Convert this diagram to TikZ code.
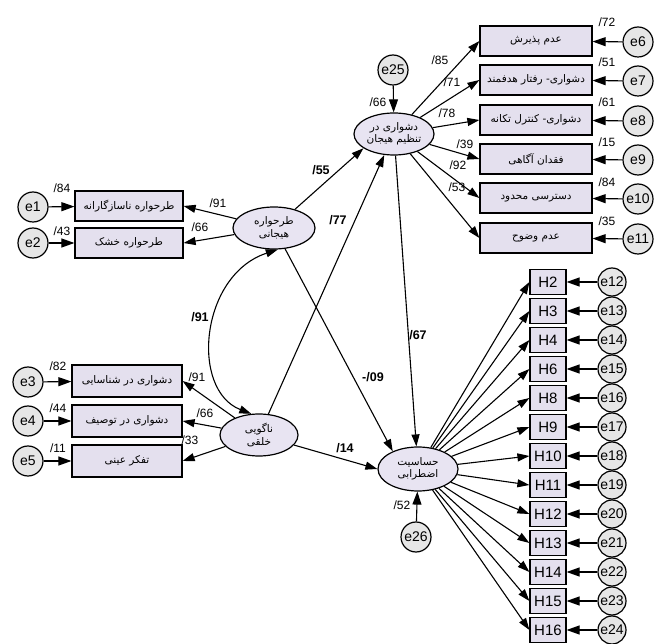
\documentclass[tikz,border=0pt]{standalone}
\usepackage{fontspec}
\setmainfont{Liberation Sans}
\newfontfamily\fa[Script=Arabic]{DejaVu Sans}
\TeXXeTstate=1
\usetikzlibrary{shapes.geometric,arrows.meta}
\definecolor{boxfill}{HTML}{E4E0EE}
\definecolor{latfill}{HTML}{E8E4F2}
\definecolor{errfill}{HTML}{E6E6E6}
\newcommand\pr[1]{{\fa\beginR #1\endR}}
\begin{document}
\begin{tikzpicture}[x=1pt,y=-1pt,
  ind/.style={draw,line width=1.2pt,fill=boxfill,minimum width=112pt,minimum height=30pt,inner sep=1pt,font=\fontsize{10.5}{11}\selectfont},
  hbox/.style={draw,line width=1.2pt,fill=boxfill,minimum width=36pt,minimum height=25pt,inner sep=1pt,font=\fontsize{15}{15}\selectfont},
  lat/.style={ellipse,draw,line width=1.2pt,fill=latfill,minimum width=80pt,minimum height=42pt,inner sep=0pt,align=center,font=\fontsize{10.5}{12.5}\selectfont},
  err/.style={circle,draw,line width=1.2pt,fill=errfill,minimum size=30pt,inner sep=0pt,font=\fontsize{14}{14}\selectfont},
  herr/.style={err,minimum size=28pt},
  arr/.style={-{Triangle[length=12pt,width=8pt]},line width=1.1pt},
  earr/.style={-{Triangle[length=13pt,width=9pt]},line width=1.1pt},
  lbl/.style={font=\fontsize{12}{12}\selectfont,inner sep=0pt},
  blbl/.style={font=\bfseries\fontsize{12.5}{12.5}\selectfont,inner sep=0pt}
]
\useasboundingbox (0,0) rectangle (662,644);

% latent variables
\node[lat] (D) at (394,134) {\pr{دشواری در}\\\pr{تنظیم هیجان}};
\node[lat,minimum width=82pt,minimum height=42pt] (S) at (274,228) {\pr{طرحواره}\\\pr{هیجانی}};
\node[lat,minimum width=78pt] (A) at (259,435) {\pr{ناگویی}\\\pr{خلقی}};
\node[lat,minimum height=44pt] (AS) at (418,469) {\pr{حساسیت}\\\pr{اضطرابی}};

% top right indicators
\node[ind] (b6) at (536,41) {\pr{عدم پذیرش}};
\node[ind] (b7) at (536,80) {\pr{دشواری- رفتار هدفمند}};
\node[ind] (b8) at (536,120) {\pr{دشواری- کنترل تکانه}};
\node[ind] (b9) at (536,159) {\pr{فقدان آگاهی}};
\node[ind] (b10) at (536,198) {\pr{دسترسی محدود}};
\node[ind] (b11) at (536,238) {\pr{عدم وضوح}};
\node[err] (e6) at (638,42) {e6};
\node[err] (e7) at (638,81) {e7};
\node[err] (e8) at (638,121) {e8};
\node[err] (e9) at (638,160) {e9};
\node[err] (e10) at (638,199) {e10};
\node[err] (e11) at (638,239) {e11};
\node[err] (e25) at (393,70) {e25};

% left indicators
\node[ind,minimum width=108pt] (s1) at (129,206) {\pr{طرحواره ناسازگارانه}};
\node[ind,minimum width=108pt] (s2) at (129,243) {\pr{طرحواره خشک}};
\node[err] (e1) at (33,207) {e1};
\node[err] (e2) at (33,243) {e2};

\node[ind,minimum width=110pt,minimum height=32pt] (a1) at (127,381) {\pr{دشواری در شناسایی}};
\node[ind,minimum width=110pt,minimum height=32pt] (a2) at (127,421) {\pr{دشواری در توصیف}};
\node[ind,minimum width=110pt,minimum height=32pt] (a3) at (127,461) {\pr{تفکر عینی}};
\node[err] (e3) at (28,382) {e3};
\node[err] (e4) at (28,421) {e4};
\node[err] (e5) at (28,461) {e5};

\node[err] (e26) at (416,537) {e26};

% H indicators
\foreach \h/\e [count=\i from 0] in {H2/e12,H3/e13,H4/e14,H6/e15,H8/e16,H9/e17,H10/e18,H11/e19,H12/e20,H13/e21,H14/e22,H15/e23,H16/e24}{
  \node[hbox] (\h) at (548,282+29*\i) {\h};
  \node[herr] (\e) at (612,282+29*\i) {\e};
  \draw[earr] (\e) -- (\h);
  \draw[arr] (AS) -- (\h.west);
}

% loadings
\foreach \b/\e in {b6/e6,b7/e7,b8/e8,b9/e9,b10/e10,b11/e11}{
  \draw[arr] (D) -- (\b.west);
  \draw[earr] (\e) -- (\b);
}
\draw[earr] (e25) -- (D);
\draw[arr] (S) -- (s1.east);
\draw[arr] (S) -- (s2.east);
\draw[earr] (e1) -- (s1);
\draw[earr] (e2) -- (s2);
\draw[arr] (A) -- (a1.east);
\draw[arr] (A) -- (a2.east);
\draw[arr] (A) -- (a3.east);
\draw[earr] (e3) -- (a1);
\draw[earr] (e4) -- (a2);
\draw[earr] (e5) -- (a3);
\draw[earr] (e26) -- (AS);

% structural paths
\draw[arr] (S) -- (D.205);
\draw[arr] (A) -- (D.245);
\draw[arr] (D) -- (AS);
\draw[arr] (S) -- (AS.145);
\draw[arr] (A) -- (AS.west);
\draw[{Triangle[length=12pt,width=8pt]}-{Triangle[length=12pt,width=8pt]},line width=1.1pt]
  (S.280) .. controls (200,275) and (190,390) .. (A.110);

% labels
\node[lbl] (l72) at (607,22) {/72};
\node[lbl] (l51) at (607,62) {/51};
\node[lbl] (l61) at (607,102) {/61};
\node[lbl] (l15) at (607,142) {/15};
\node[lbl] (l84) at (607,182) {/84};
\node[lbl] (l35) at (607,221) {/35};
\node[lbl] (l85) at (440,60) {/85};
\node[lbl] (l71) at (452,82) {/71};
\node[lbl] (l78) at (447,113) {/78};
\node[lbl] (l39) at (465,144) {/39};
\node[lbl] (l92) at (458,165) {/92};
\node[lbl] (l53) at (457,187) {/53};
\node[lbl] (l66a) at (378,102) {/66};
\node[lbl] (l84b) at (62,188) {/84};
\node[lbl] (l43) at (62,231) {/43};
\node[lbl] (l91a) at (218,203) {/91};
\node[lbl] (l66b) at (200,227) {/66};
\node[lbl] (l82) at (58,366) {/82};
\node[lbl] (l44) at (58,408) {/44};
\node[lbl] (l11) at (58,448) {/11};
\node[lbl] (l91b) at (197,377) {/91};
\node[lbl] (l66c) at (205,413) {/66};
\node[lbl] (l33) at (190,440) {/33};
\node[lbl] (l52) at (402,505) {/52};
\node[blbl] (p55) at (321,170) {/55};
\node[blbl] (p77) at (338,220) {/77};
\node[blbl] (p67) at (418,335) {/67};
\node[blbl] (p09) at (373,377) {-/09};
\node[blbl] (p14) at (345,448) {/14};
\node[blbl] (p91) at (200,317) {/91};
\foreach \t/\x/\y in {/61/473/357,/65/476/373,/65/478/388,/68/480/403,/58/482/418,/65/484/433,/60/487/451,/67/505/467,/60/505/485,/69/505/502,/72/504/518,/76/505/535,/70/503/550}{
  \node[lbl] at (\x,\y) {\t};
}
\foreach \t/\y in {/37/268,/42/297,/42/324,/47/351,/30/383,/42/412,/36/442,/44/470,/36/500,/48/528,/51/555,/57/583,/49/612}{
  \node[lbl] at (578,\y) {\t};
}
\end{tikzpicture}
\end{document}
